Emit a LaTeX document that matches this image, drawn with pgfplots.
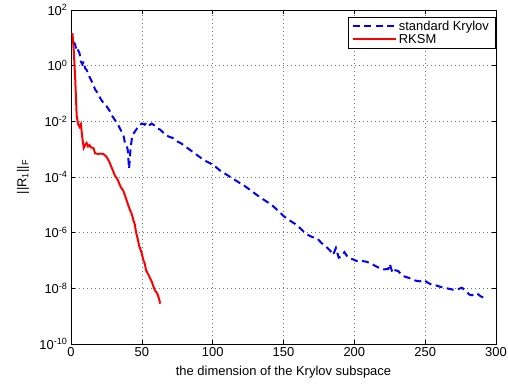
\documentclass[border=0pt]{standalone}
\usepackage{pgfplots}
\pgfplotsset{compat=1.18}
\usepackage{fontspec}
\setmainfont{Liberation Sans}

\begin{document}
\begin{tikzpicture}
\begin{axis}[
  name=ax,
  scale only axis,
  width=425bp, height=334bp,
  ymode=log,
  xmin=0, xmax=300, ymin=1e-10, ymax=1e2,
  xtick={0,50,...,300},
  ytick={1e-10,1e-8,1e-6,1e-4,1e-2,1e0,1e2},
  yticklabels={10\textsuperscript{-10},10\textsuperscript{-8},10\textsuperscript{-6},10\textsuperscript{-4},10\textsuperscript{-2},10\textsuperscript{0},10\textsuperscript{2}},
  minor ytick={},
  /pgf/number format/assume math mode=true,
  tick align=inside,
  major tick length=4bp,
  tick style={black, line width=0.5pt},
  axis line style={black, line width=0.8pt},
  grid=major,
  major grid style={black!55, dash pattern=on 0.8bp off 3.2bp, line width=0.6pt},
  font=\fontsize{13}{15}\selectfont,
  tick label style={font=\fontsize{13}{15}\selectfont},
  xlabel={the dimension of the Krylov subspace},
  ylabel={||R\textsubscript{1}||\textsubscript{F}},
  xlabel style={at={(axis description cs:0.5,-0.084)}, anchor=center},
  ylabel style={at={(axis description cs:-0.113,0.5)}, anchor=center},
  legend style={at={(0.998,0.979)}, anchor=north east, draw=black, line width=0.6pt,
    font=\fontsize{13}{15}\selectfont, inner xsep=4bp, inner ysep=1.5bp, row sep=-1.5bp,
    cells={anchor=west}},
  legend image code/.code={\draw[#1] plot coordinates {(0bp,0bp) (21bp,0bp) (43bp,0bp)};},
  legend cell align=left,
]
\addplot[blue, line width=2pt, dash pattern=on 7bp off 4.5bp] coordinates {
(2,7.08) (3,5.62) (4,3.16) (5,3.55) (6,2.82) (7,1.41) (8,1.12) (9,1.41)
(10,0.794) (11,0.708) (13,0.398) (15,0.251) (17,0.141) (19,0.1)
(21,6.31e-2) (23,4.47e-2) (25,3.55e-2) (27,2.51e-2) (29,1.585e-2)
(31,1.12e-2) (33,7.94e-3) (35,5.01e-3) (37,3.16e-3) (38,1.78e-3)
(39,1.41e-3) (40,1e-3) (41,2.0e-4) (42,1e-3) (43,2.51e-3) (44,3.55e-3)
(46,5.01e-3) (48,7.08e-3) (50,8.32e-3) (52,7.59e-3) (53,8.91e-3)
(55,7.08e-3) (57,8.32e-3) (59,7.08e-3) (61,5.62e-3) (63,5.01e-3)
(66,3.55e-3) (69,2.82e-3) (72,2.51e-3) (75,1.905e-3) (78,1.585e-3)
(82,1.12e-3) (86,7.94e-4) (90,5.62e-4) (94,3.98e-4) (98,3.16e-4)
(102,2.34e-4) (106,1.585e-4) (110,1.2e-4) (114,8.91e-5) (118,6.61e-5)
(122,5.01e-5) (126,3.55e-5) (130,2.51e-5) (134,1.78e-5) (138,1.32e-5)
(142,9.55e-6) (146,6.31e-6) (150,3.98e-6) (154,2.82e-6) (158,2.09e-6)
(162,1.41e-6) (166,8.91e-7) (170,7.08e-7) (174,6.03e-7) (177,4.17e-7)
(180,3.16e-7) (183,2.24e-7) (185,1.585e-7) (187,2.82e-7) (189,1.26e-7)
(191,1.41e-7) (193,2.0e-7) (195,1.41e-7) (197,1.2e-7) (200,1.05e-7)
(203,8.91e-8) (206,9.55e-8) (209,8.91e-8) (212,7.59e-8) (215,6.31e-8)
(218,5.25e-8) (221,4.79e-8) (224,5.01e-8) (225,7.59e-8) (227,3.55e-8)
(229,4.47e-8) (231,4.17e-8) (234,2.82e-8) (237,2.51e-8) (240,2.24e-8)
(243,1.905e-8) (246,1.78e-8) (249,2.0e-8) (252,1.585e-8) (255,1.32e-8)
(258,1.26e-8) (261,1.12e-8) (264,1.05e-8) (267,9.55e-9) (270,8.91e-9)
(273,9.33e-9) (276,1.05e-8) (279,7.94e-9) (281,6.03e-9) (283,5.62e-9)
(285,6.61e-9) (287,6.31e-9) (289,5.25e-9) (291,4.68e-9) (293,4.17e-9)
};
\addlegendentry{standard Krylov}
\addplot[red, line width=2pt] coordinates {
(1,14.8) (2,3.16) (3,0.316) (4,1.585e-2) (5,7.94e-3) (6,6.31e-3)
(7,7.94e-3) (8,2.51e-3) (9,1.12e-3) (10,1.41e-3) (11,1.66e-3)
(12,1.26e-3) (13,1.41e-3) (14,1.175e-3) (15,1.12e-3) (16,1.07e-3)
(17,7.08e-4) (19,6.76e-4) (21,6.92e-4) (23,6.61e-4) (25,5.37e-4)
(27,3.55e-4) (29,2.0e-4) (31,1.12e-4) (33,7.94e-5) (35,4.47e-5)
(37,3.16e-5) (39,1.585e-5) (41,7.94e-6) (43,4.47e-6) (44,2.82e-6)
(45,2.0e-6) (46,1e-6) (47,6.31e-7) (48,3.55e-7) (50,1.78e-7)
(51,1.05e-7) (52,7.94e-8) (53,4.47e-8) (55,2.82e-8) (57,1.74e-8)
(59,8.91e-9) (61,6.31e-9) (62,4.47e-9) (63,2.82e-9)
};
\addlegendentry{RKSM}
\end{axis}
\pgfresetboundingbox
\path ([shift={(-71bp,-43bp)}]ax.south west) rectangle ([shift={(12bp,10bp)}]ax.north east);
\end{tikzpicture}
\end{document}
